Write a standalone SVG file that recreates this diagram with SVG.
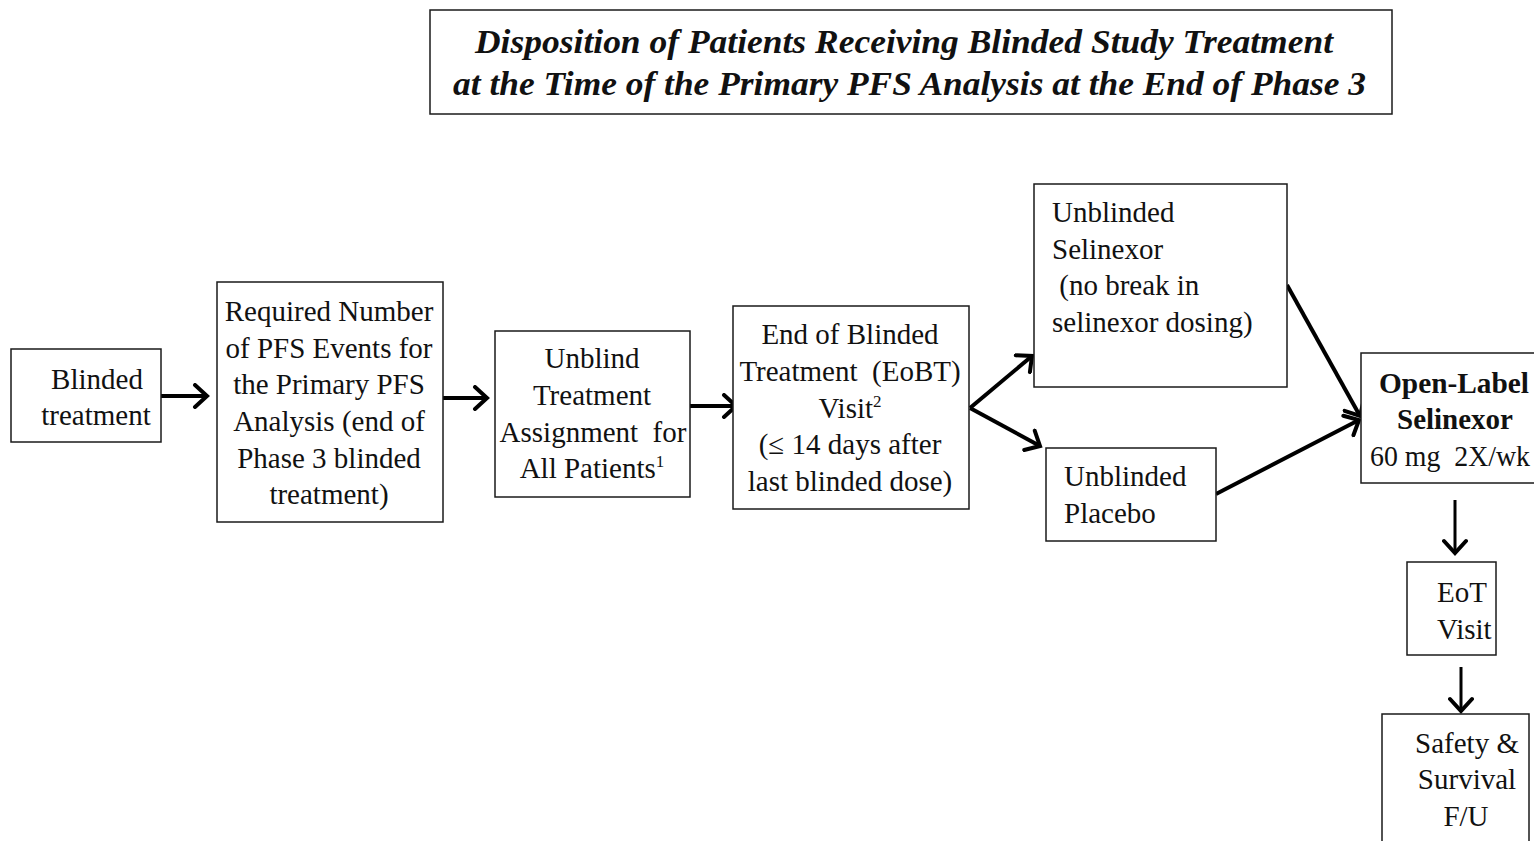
<svg xmlns="http://www.w3.org/2000/svg" width="1534" height="841" viewBox="0 0 1534 841">
<style>
.box{fill:#fff;stroke:#1a1a1a;stroke-width:1.5}
.t{font-family:"Liberation Serif","Times New Roman",serif;font-size:29px;fill:#111}
.c{text-anchor:middle}
.b{font-weight:bold}
.title{font-family:"Liberation Serif","Times New Roman",serif;font-size:34px;font-weight:bold;font-style:italic;fill:#111}
.con{fill:none;stroke:#000;stroke-width:4}
.con2{fill:none;stroke:#000;stroke-width:3}
</style>
<defs>
<marker id="ah" markerUnits="userSpaceOnUse" markerWidth="18" markerHeight="26" refX="15" refY="13" orient="auto" viewBox="0 0 18 26">
<path d="M3,2 L15,13 L3,24" fill="none" stroke="#000" stroke-width="4" stroke-linecap="round" stroke-linejoin="miter"/>
</marker>
</defs>
<rect width="1534" height="841" fill="#fff"/>
<g id="title">
<rect class="box" x="430" y="10" width="962" height="104"/>
<text class="title" x="475" y="53" textLength="858" lengthAdjust="spacingAndGlyphs">Disposition of Patients Receiving Blinded Study Treatment</text>
<text class="title" x="453" y="95" textLength="913" lengthAdjust="spacingAndGlyphs">at the Time of the Primary PFS Analysis at the End of Phase 3</text>
</g>
<g id="connectors">
<line class="con" x1="161" y1="396" x2="207" y2="396" marker-end="url(#ah)"/>
<line class="con" x1="443" y1="398" x2="487" y2="398" marker-end="url(#ah)"/>
<line class="con" x1="690" y1="406" x2="736" y2="406" marker-end="url(#ah)"/>
<line class="con" x1="970" y1="408" x2="1032" y2="356" marker-end="url(#ah)"/>
<line class="con" x1="970" y1="408" x2="1040" y2="446" marker-end="url(#ah)"/>
<line class="con" x1="1287" y1="285" x2="1360" y2="416" marker-end="url(#ah)"/>
<line class="con" x1="1216" y1="494" x2="1359" y2="420" marker-end="url(#ah)"/>
<line class="con2" x1="1455" y1="500" x2="1455" y2="553" marker-end="url(#ah)"/>
<line class="con2" x1="1461" y1="667" x2="1461" y2="711" marker-end="url(#ah)"/>
</g>
<g id="blinded">
<rect class="box" x="11" y="349" width="150" height="93"/>
<text class="t c" x="97" y="389">Blinded</text>
<text class="t c" x="96" y="425">treatment</text>
</g>
<g id="required">
<rect class="box" x="217" y="282" width="226" height="240"/>
<text class="t c" x="329" y="321">Required Number</text>
<text class="t c" x="329" y="358">of PFS Events for</text>
<text class="t c" x="329" y="394">the Primary PFS</text>
<text class="t c" x="329" y="431">Analysis (end of</text>
<text class="t c" x="329" y="468">Phase 3 blinded</text>
<text class="t c" x="329" y="504">treatment)</text>
</g>
<g id="unblind">
<rect class="box" x="495" y="331" width="195" height="166"/>
<text class="t c" x="592" y="368">Unblind</text>
<text class="t c" x="592" y="405">Treatment</text>
<text class="t c" x="593" y="442" xml:space="preserve">Assignment  for</text>
<text class="t c" x="592" y="478">All Patients<tspan font-size="17" dy="-11">1</tspan></text>
</g>
<g id="eobt">
<rect class="box" x="733" y="306" width="236" height="203"/>
<text class="t c" x="850" y="344">End of Blinded</text>
<text class="t c" x="850" y="381" xml:space="preserve">Treatment  (EoBT)</text>
<text class="t c" x="850" y="418">Visit<tspan font-size="17" dy="-11">2</tspan></text>
<text class="t c" x="850" y="454">(≤ 14 days after</text>
<text class="t c" x="850" y="491">last blinded dose)</text>
</g>
<g id="sel">
<rect class="box" x="1034" y="184" width="253" height="203"/>
<text class="t" x="1052" y="222">Unblinded</text>
<text class="t" x="1052" y="259">Selinexor</text>
<text class="t" x="1052" y="295" xml:space="preserve"> (no break in</text>
<text class="t" x="1052" y="332">selinexor dosing)</text>
</g>
<g id="placebo">
<rect class="box" x="1046" y="448" width="170" height="93"/>
<text class="t" x="1064" y="486">Unblinded</text>
<text class="t" x="1064" y="523">Placebo</text>
</g>
<g id="openlabel">
<rect class="box" x="1361" y="353" width="190" height="130"/>
<text class="t b" x="1379" y="393" textLength="150" lengthAdjust="spacingAndGlyphs">Open-Label</text>
<text class="t c b" x="1455" y="429">Selinexor</text>
<text class="t" x="1370" y="466" xml:space="preserve" textLength="160" lengthAdjust="spacingAndGlyphs">60 mg  2X/wk</text>
</g>
<g id="eot">
<rect class="box" x="1407" y="562" width="89" height="93"/>
<text class="t" x="1437" y="602">EoT</text>
<text class="t" x="1437" y="639">Visit</text>
</g>
<g id="safety">
<rect class="box" x="1382" y="714" width="147" height="140"/>
<text class="t c" x="1467" y="753">Safety &amp;</text>
<text class="t c" x="1467" y="789">Survival</text>
<text class="t c" x="1466" y="826">F/U</text>
</g>
</svg>
